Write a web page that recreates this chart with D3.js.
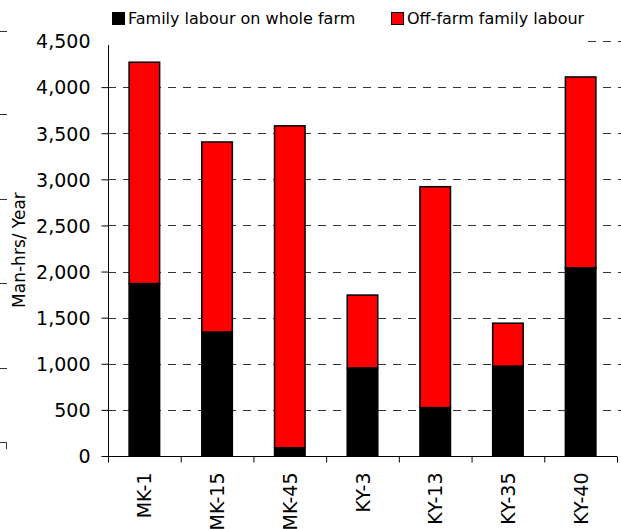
<!DOCTYPE html>
<html>
<head>
<meta charset="utf-8">
<script src="https://cdn.jsdelivr.net/npm/d3@7"></script>
<style>
  body { margin: 0; background: #fff; }
  svg text { font-family: "DejaVu Sans", "Liberation Sans", Arial, sans-serif; fill: #000; }
</style>
</head>
<body>
<svg id="chart" width="621" height="529"></svg>
<script>
// farms
var farms = ["MK-1", "MK-15", "MK-45", "KY-3", "KY-13", "KY-35", "KY-40"];
// man-hrs / year
var familyOnFarm = [1870, 1345, 90, 955, 525, 975, 2040];
var offFarmFamily = [2400, 2060, 3490, 790, 2395, 465, 2070];
var seriesNames = ["Family labour on whole farm", "Off-farm family labour"];
var seriesColors = ["#000000", "#ff0000"];
var yTicks = [0, 500, 1000, 1500, 2000, 2500, 3000, 3500, 4000, 4500];

var svg = d3.select("#chart");

var plotLeft = 108, plotRight = 617, plotTop = 41, plotBottom = 456;

var x = d3.scaleBand()
  .domain(farms)
  .range([plotLeft, plotRight])
  .paddingInner(0.58)
  .paddingOuter(0.29);

var y = d3.scaleLinear().domain([0, 4500]).range([plotBottom, plotTop]);

var rows = farms.map(function(f, i){
  return {farm: f, family: familyOnFarm[i], off: offFarmFamily[i]};
});
var stacked = d3.stack().keys(["family", "off"])(rows);

/**
 stray axis marks on the left edge (cropped neighbour)
*/
var ghost = svg.append("g").attr("stroke", "#333").attr("stroke-width", 1);
[31.5, 114.5, 199.5, 283.5, 368.5].forEach(function(gy){
  ghost.append("line").attr("x1", 0).attr("x2", 7).attr("y1", gy).attr("y2", gy);
});
ghost.append("path").attr("fill", "none").attr("d", "M0,442.5H6.5V449");

/**
 gridlines
*/
svg.append("g")
  .selectAll("line")
  .data(yTicks.filter(function(d){ return d > 0; }))
  .join("line")
  .attr("x1", plotLeft).attr("x2", 621)
  .attr("y1", function(d){ return Math.round(y(d)) + 0.5; })
  .attr("y2", function(d){ return Math.round(y(d)) + 0.5; })
  .style("stroke", "#333")
  .style("stroke-width", 1)
  .style("stroke-dasharray", "8,7");

/**
 bars
*/
svg.append("g")
  .selectAll("g")
  .data(stacked)
  .join("g")
  .attr("fill", function(d, i){ return seriesColors[i]; })
  .selectAll("rect")
  .data(function(d){ return d; })
  .join("rect")
  .attr("x", function(d){ return x(d.data.farm); })
  .attr("y", function(d){ return y(d[1]); })
  .attr("width", x.bandwidth())
  .attr("height", function(d){ return y(d[0]) - y(d[1]); })
  .style("stroke", "#000")
  .style("stroke-width", 1.5);

/**
 axes
*/
var yAxis = svg.append("g")
  .attr("transform", "translate(" + (plotLeft + 0.5) + ",0)")
  .call(d3.axisLeft(y).tickValues(yTicks).tickSize(7).tickSizeOuter(0)
    .tickFormat(d3.format(",")));
yAxis.selectAll("text").style("font-size", "19px").attr("x", -18).attr("dy", "0.36em");
yAxis.selectAll("line, path").style("stroke", "#000");

var xAxis = svg.append("g")
  .attr("transform", "translate(0," + (plotBottom + 0.5) + ")");
xAxis.append("line")
  .attr("x1", plotLeft).attr("x2", plotRight)
  .style("stroke", "#000");
xAxis.selectAll(".tick")
  .data(d3.range(farms.length + 1))
  .join("line")
  .attr("class", "tick")
  .attr("x1", function(i){ return plotLeft + i * x.step() + 0.5; })
  .attr("x2", function(i){ return plotLeft + i * x.step() + 0.5; })
  .attr("y1", 0).attr("y2", 6)
  .style("stroke", "#000");
xAxis.selectAll(".lab")
  .data(farms)
  .join("text")
  .attr("class", "lab")
  .attr("transform", function(d){
    return "translate(" + (x(d) + x.bandwidth() / 2 + 7) + ",16) rotate(-90)";
  })
  .attr("text-anchor", "end")
  .style("font-size", "19px")
  .text(function(d){ return d; });

/**
 y title
*/
svg.append("text")
  .attr("transform", "translate(25,250) rotate(-90)")
  .attr("text-anchor", "middle")
  .style("font-size", "17px")
  .text("Man-hrs/ Year");

/**
 legend (its white box hides the top of the plot)
*/
var legend = svg.append("g");
legend.append("rect")
  .attr("x", 97).attr("y", 0).attr("width", 491).attr("height", 44)
  .attr("fill", "#fff");
var items = legend.selectAll("g")
  .data(seriesNames)
  .join("g")
  .attr("transform", function(d, i){ return "translate(" + (i == 0 ? 112 : 391) + ",12)"; });
items.append("rect")
  .attr("x", 0.5).attr("y", 0.5).attr("width", 12).attr("height", 12)
  .attr("fill", function(d, i){ return seriesColors[i]; })
  .style("stroke", "#000").style("stroke-width", 1);
items.append("text")
  .attr("x", 16).attr("y", 12)
  .style("font-size", "16px")
  .text(function(d){ return d; });

// the 4,500 label sits outside the legend box
yAxis.raise();
yAxis.selectAll(".tick").filter(function(d){ return d == 4500; }).select("line").remove();
yAxis.select(".domain").attr("d", "M0," + (plotTop + 4) + "V" + plotBottom);
</script>
</body>
</html>
